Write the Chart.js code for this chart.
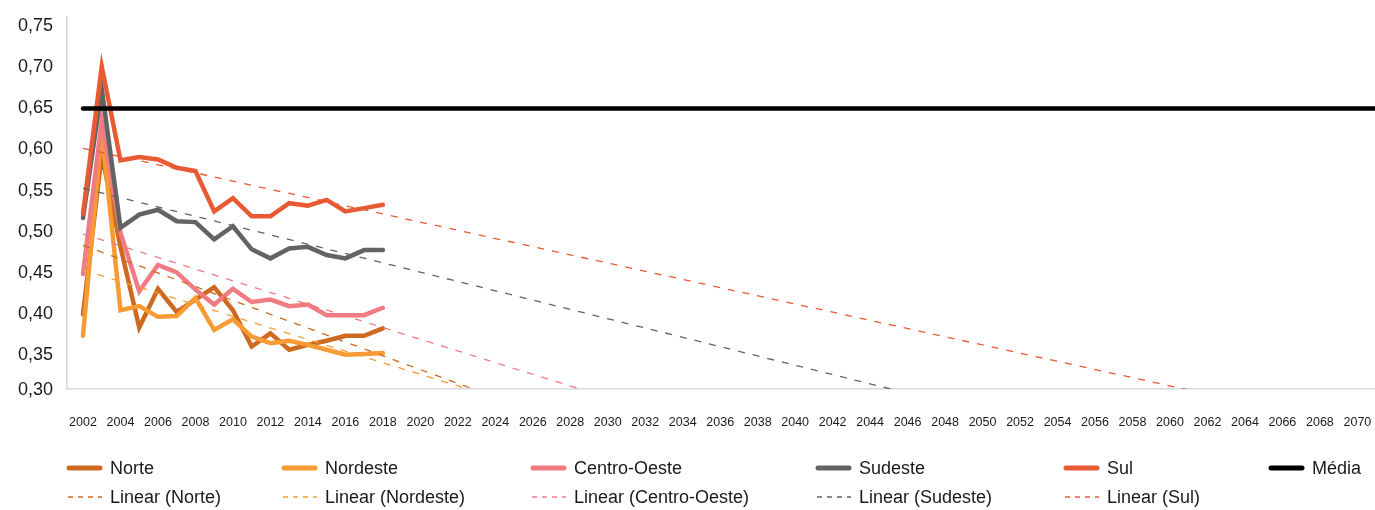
<!DOCTYPE html>
<html>
<head>
<meta charset="utf-8">
<script src="https://cdn.jsdelivr.net/npm/chart.js@4/dist/chart.umd.min.js"></script>
<style>
  html, body { margin: 0; padding: 0; background: #fff; }
  #wrap { width: 1375px; height: 510px; }
</style>
</head>
<body>
<div id="wrap"><canvas id="chart" width="1375" height="510"></canvas></div>
<script>
// values
const years = [2002, 2003, 2004, 2005, 2006, 2007, 2008, 2009, 2010, 2011, 2012, 2013, 2014, 2015, 2016, 2017, 2018];
const norte = [0.398, 0.592, 0.480, 0.382, 0.429, 0.401, 0.416, 0.431, 0.403, 0.359, 0.375, 0.355, 0.361, 0.366, 0.372, 0.372, 0.381];
const nordeste = [0.372, 0.622, 0.403, 0.408, 0.395, 0.396, 0.418, 0.379, 0.392, 0.371, 0.363, 0.366, 0.361, 0.355, 0.349, 0.350, 0.351];
const centroOeste = [0.447, 0.633, 0.497, 0.426, 0.458, 0.449, 0.428, 0.410, 0.429, 0.413, 0.416, 0.408, 0.410, 0.397, 0.397, 0.397, 0.406];
const sudeste = [0.515, 0.672, 0.503, 0.519, 0.525, 0.511, 0.510, 0.489, 0.505, 0.477, 0.466, 0.478, 0.480, 0.470, 0.466, 0.476, 0.476];
const sul = [0.520, 0.699, 0.585, 0.589, 0.586, 0.576, 0.572, 0.523, 0.539, 0.517, 0.517, 0.533, 0.530, 0.537, 0.523, 0.527, 0.531];

// Média and the linear trendlines, ends read at 2002 and 2071
const lineYears = [2002, 2071];
const media = [0.648, 0.648];
const trendNorte = [0.482, -0.097];
const trendNordeste = [0.452, -0.034];
const trendCentroOeste = [0.4955, 0.006];
const trendSudeste = [0.551, 0.161];
const trendSul = [0.5995, 0.2565];

const xTicks = [2002, 2004, 2006, 2008, 2010, 2012, 2014, 2016, 2018, 2020, 2022, 2024, 2026, 2028, 2030,
  2032, 2034, 2036, 2038, 2040, 2042, 2044, 2046, 2048, 2050, 2052, 2054, 2056, 2058, 2060, 2062,
  2064, 2066, 2068, 2070];
const yTicks = [0.30, 0.35, 0.40, 0.45, 0.50, 0.55, 0.60, 0.65, 0.70, 0.75];
const yTickLabels = ['0,30', '0,35', '0,40', '0,45', '0,50', '0,55', '0,60', '0,65', '0,70', '0,75'];

const FONT = "'Liberation Sans', Arial, sans-serif";
const colors = {
  norte: '#cd6a1f',
  nordeste: '#f89b34',
  centro: '#f07b82',
  sudeste: '#636363',
  sul: '#e85a34',
  media: '#000000'
};

function pts(xs, ys) {
  return xs.map((x, i) => ({ x: x, y: ys[i] }));
}

function solid(label, xs, ys, color, order) {
  return {
    label: label, data: pts(xs, ys), borderColor: color, backgroundColor: color,
    borderWidth: 4.5, pointRadius: 0, borderCapStyle: 'round', borderJoinStyle: 'miter',
    tension: 0, order: order, kind: 'solid'
  };
}

function trend(label, ys, color) {
  return {
    label: label, data: pts(lineYears, ys), borderColor: color, backgroundColor: color,
    borderWidth: 1.3, borderDash: [7, 8], pointRadius: 0, tension: 0, order: 0, kind: 'dash'
  };
}

const datasets = [
  solid('Norte', years, norte, colors.norte, 6),
  solid('Nordeste', years, nordeste, colors.nordeste, 5),
  solid('Centro-Oeste', years, centroOeste, colors.centro, 4),
  solid('Sudeste', years, sudeste, colors.sudeste, 3),
  solid('Sul', years, sul, colors.sul, 2),
  solid('Média', lineYears, media, colors.media, 1),
  trend('Linear (Norte)', trendNorte, colors.norte),
  trend('Linear (Nordeste)', trendNordeste, colors.nordeste),
  trend('Linear (Centro-Oeste)', trendCentroOeste, colors.centro),
  trend('Linear (Sudeste)', trendSudeste, colors.sudeste),
  trend('Linear (Sul)', trendSul, colors.sul)
];

// legend drawn as a grid, like the spreadsheet one
const legendCols = [67, 282, 531, 816, 1064, 1269];
const legendRows = [468, 497];

const gridLegend = {
  id: 'gridLegend',
  afterDraw(chart) {
    const ctx = chart.ctx;
    let solidIdx = 0, dashIdx = 0;
    ctx.save();
    ctx.font = '18px ' + FONT;
    ctx.textBaseline = 'middle';
    ctx.fillStyle = '#1a1a1a';
    chart.data.datasets.forEach(ds => {
      let x, y;
      if (ds.kind === 'solid') { x = legendCols[solidIdx++]; y = legendRows[0]; }
      else { x = legendCols[dashIdx++]; y = legendRows[1]; }
      ctx.beginPath();
      ctx.strokeStyle = ds.borderColor;
      if (ds.kind === 'solid') {
        ctx.lineWidth = 5; ctx.lineCap = 'round'; ctx.setLineDash([]);
        ctx.moveTo(x + 2, y); ctx.lineTo(x + 33, y);
      } else {
        ctx.lineWidth = 1.5; ctx.lineCap = 'butt'; ctx.setLineDash([5, 5]);
        ctx.moveTo(x + 1, y); ctx.lineTo(x + 35, y);
      }
      ctx.stroke();
      ctx.setLineDash([]);
      ctx.fillText(ds.label, x + 43, y + 1);
    });
    ctx.restore();
  }
};

new Chart(document.getElementById('chart'), {
  type: 'line',
  data: { datasets: datasets },
  options: {
    responsive: false,
    animation: false,
    devicePixelRatio: 1,
    layout: { padding: { top: 17, right: 0, left: 0, bottom: 0 } },
    plugins: { legend: { display: false }, tooltip: { enabled: false } },
    scales: {
      x: {
        type: 'linear',
        min: 2001.146,
        max: 2070.94,
        grid: { display: false, drawTicks: false },
        border: { display: true, color: '#d9d9d9', width: 1.5 },
        afterFit(s) { s.height = 121; s.paddingLeft = 0; s.paddingRight = 0; },
        afterBuildTicks(s) { s.ticks = xTicks.map(v => ({ value: v })); },
        ticks: {
          padding: 26,
          maxRotation: 0,
          autoSkip: false,
          color: '#1a1a1a',
          font: { family: FONT, size: 12.5 },
          callback: v => String(v)
        }
      },
      y: {
        min: 0.3074,
        max: 0.759,
        grid: { display: false, drawTicks: false },
        border: { display: true, color: '#d9d9d9', width: 1.5 },
        afterFit(s) { s.width = 67; s.paddingTop = 0; s.paddingBottom = 0; },
        afterBuildTicks(s) { s.ticks = yTicks.map(v => ({ value: Math.max(v, s.min) })); },
        ticks: {
          padding: 14,
          labelOffset: 1.5,
          autoSkip: false,
          color: '#1a1a1a',
          font: { family: FONT, size: 18 },
          callback: (v, i) => yTickLabels[i]
        }
      }
    }
  },
  plugins: [gridLegend]
});
</script>
</body>
</html>
